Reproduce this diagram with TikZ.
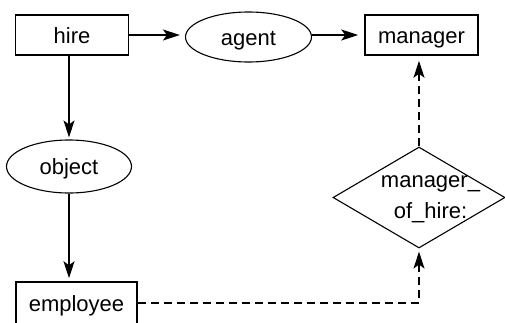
\documentclass[tikz,border=0pt]{standalone}
\usepackage{fontspec}
\setmainfont{Liberation Sans}
\usetikzlibrary{shapes.geometric,arrows.meta}
\begin{document}
\begin{tikzpicture}[x=1pt,y=-1pt,
  every node/.style={font=\fontsize{22}{31}\selectfont, inner sep=0pt},
  label text/.style={text height=16pt, text depth=0pt},
  concept/.style={draw, line width=1.5pt, rectangle, minimum width=113pt, minimum height=40pt, label text},
  relation/.style={draw, line width=1.1pt, ellipse, minimum width=126pt, minimum height=50pt, label text},
  actor/.style={draw, line width=1.1pt, diamond, minimum width=172pt, minimum height=101pt},
  link/.style={line width=1.5pt, -{Stealth[length=17pt,width=11pt,inset=4pt]}, shorten >=4pt},
  dashlink/.style={link, dash pattern=on 8pt off 5pt}]
  \useasboundingbox (0,0) rectangle (505,322);

  % concept and relation nodes
  \node[concept] (hire) at (72,35) {hire};
  \node[relation] (agent) at (248.5,37) {agent};
  \node[concept] (manager) at (421.5,35) {manager};
  \node[relation, minimum height=53pt, minimum width=125pt] (object) at (69,166.5) {object};
  \node[concept, minimum width=121pt, minimum height=42pt] (employee) at (76.5,303) {employee};

  % actor node with its label
  \node[actor] (moh) at (419,197.5) {};
  \node[align=center] (mohtext) at (430.5,199) {manager\_\\of\_hire:};

  % solid relation links
  \draw[link, shorten >=5pt] (hire.east) -- (agent.west |- hire.east);
  \draw[link, shorten >=6pt] (agent.east |- manager.west) -- (manager.west);
  \draw[link, shorten >=2pt] (hire.south -| object.north) -- (object.north);
  \draw[link, shorten >=3pt] (object.south) -- (object.south |- employee.north);

  % dashed actor links
  \coordinate (bend) at (moh.south |- employee.east);
  \draw[dashlink, shorten >=3pt] (employee.east) -- (bend) -- (moh.south);
  \draw[dashlink, shorten >=5pt] (moh.north) -- (moh.north |- manager.south);
\end{tikzpicture}
\end{document}
